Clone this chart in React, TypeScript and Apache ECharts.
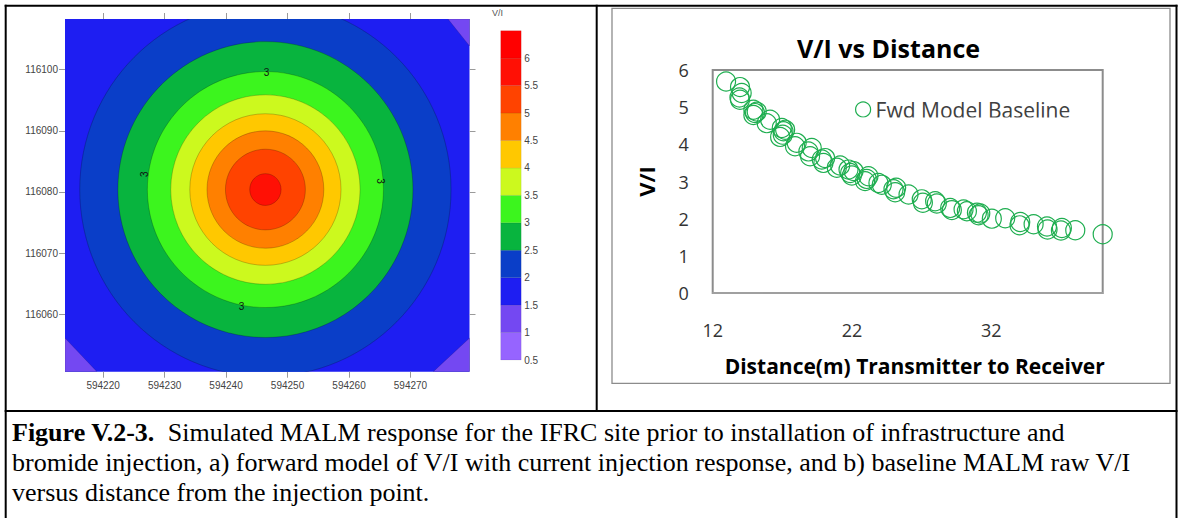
import React, { useEffect, useRef } from "react";
import * as echarts from "echarts";

// ---------- Panel a: simulated V/I contour map ----------
const mapXRange = [594213.8, 594279.6];
const mapYRange = [116050.6, 116108.3];
const eastingTicks = [594220, 594230, 594240, 594250, 594260, 594270];
const northingTicks = [116060, 116070, 116080, 116090, 116100];
const contourCenter = [594246.4, 116080.4];
const contourLevels = [2, 2.5, 3, 3.5, 4, 4.5, 5, 5.5];
const contourRadiusX = [30.2, 24.0, 19.2, 15.4, 12.3, 9.5, 6.5, 2.55];
const contourRadiusY = [30.6, 24.2, 19.3, 15.5, 12.4, 9.6, 6.6, 2.6];
// areas of the 1 - 1.5 band in the map corners
const cornerZones = [
  [[594276.1, 116108.3], [594279.6, 116103.9], [594279.6, 116108.3]],
  [[594279.6, 116056.1], [594273.7, 116050.6], [594279.6, 116050.6]],
  [[594213.8, 116056.1], [594219.0, 116050.6], [594213.8, 116050.6]],
];
const contourLabelPoints = [
  [594246.6, 116099.6, 0],
  [594226.8, 116082.9, 90],
  [594265.2, 116081.8, -90],
  [594242.5, 116061.3, 0],
];
const contourLabelText = "3";

// colour scale of panel a
const scaleBreaks = [0.5, 1, 1.5, 2, 2.5, 3, 3.5, 4, 4.5, 5, 5.5, 6, 6.5];
const scaleColors = [
  "#9664ff", "#7448f2", "#1e1ef2", "#0a3ec8", "#08b43e", "#3cf51e",
  "#ccf91e", "#ffc800", "#ff8000", "#ff4300", "#ff1005", "#ff0000",
];
const scaleTitle = "V/I";

// ---------- Panel b: V/I vs distance ----------
const seriesName = "Fwd Model Baseline";
const distances = [
  12.96, 13.96, 14.08, 13.92, 13.96, 14.92, 15.04, 14.92, 15.16, 15.88, 16.12,
  16.96, 17.08, 17.03, 17.2, 16.84, 17.91, 18.03, 18.87, 18.99, 19.11, 19.83,
  19.95, 20.07, 20.91, 21.15, 21.87, 21.99, 22.11, 21.75, 23.06, 22.94, 23.18,
  23.9, 24.14, 24.98, 25.1, 25.17, 26.06, 27.01, 27.09, 27.97, 28.09, 29.05,
  29.17, 30.01, 30.25, 30.97, 31.09, 31.21, 32.04, 33.0, 34.08, 34.03, 35.04,
  36.0, 36.04, 37.07, 37.0, 38.03, 40.0,
];
const vOverI = [
  5.69, 5.54, 5.38, 5.26, 5.2, 4.93, 4.84, 4.79, 4.88, 4.57, 4.66, 4.44, 4.35,
  4.26, 4.39, 4.2, 3.95, 4.04, 3.81, 3.68, 3.9, 3.59, 3.5, 3.63, 3.37, 3.43,
  3.23, 3.16, 3.28, 3.32, 3.07, 3.01, 3.14, 2.96, 2.91, 2.79, 2.71, 2.83, 2.65,
  2.52, 2.43, 2.47, 2.41, 2.29, 2.23, 2.25, 2.2, 2.16, 2.09, 2.14, 2.0, 2.01,
  1.91, 1.82, 1.85, 1.79, 1.71, 1.75, 1.68, 1.69, 1.58,
];
const distanceTicks = [12, 22, 32];
const chartTitle = "V/I vs Distance";
const xTitle = "Distance(m) Transmitter to Receiver";
const yTitle = "V/I";

// ---------- caption ----------
const captionLabel = "Figure V.2-3.";
const captionLines = [
  "  Simulated MALM response for the IFRC site prior to installation of infrastructure and",
  "bromide injection, a) forward model of V/I with current injection response, and b) baseline MALM raw V/I",
  "versus distance from the injection point.",
];

const SANS = "'Liberation Sans', Arial, sans-serif";
const CAL = "'Open Sans', 'Noto Sans', sans-serif";
const SERIF = "'Liberation Serif', 'Times New Roman', serif";
const GREEN = "#1fae50";

function bandColor(level: number) {
  return scaleColors[Math.round((level - scaleBreaks[0]) / 0.5)];
}

export default function App() {
  const ref = useRef<HTMLDivElement>(null);

  useEffect(() => {
    if (!ref.current) return;
    const chart = echarts.init(ref.current, undefined, { renderer: "svg" });
    const mapTick = { show: true, length: 6, lineStyle: { color: "#9a9a9a", width: 1 } };
    const mapLabel = { fontSize: 10, color: "#444", fontFamily: SANS, formatter: (v: number) => String(v) };

    const option: any = {
      animation: false,
      backgroundColor: "#fff",
      title: {
        text: chartTitle,
        left: 792,
        top: 30,
        textStyle: { fontFamily: CAL, fontWeight: "bold", fontSize: 25, color: "#000" },
      },
      legend: {
        data: [seriesName],
        left: 850,
        top: 94,
        icon: "circle",
        itemWidth: 15,
        itemHeight: 15,
        itemGap: 5,
        itemStyle: { color: "rgba(0,0,0,0)", borderColor: GREEN, borderWidth: 1.2 },
        textStyle: { fontFamily: CAL, fontSize: 21, color: "#404040" },
        selectedMode: false,
      },
      grid: [
        { left: 65, top: 19, width: 404.5, height: 352.7, show: true, backgroundColor: scaleColors[2], borderWidth: 0, outerBoundsMode: "none" },
        { left: 500.7, top: 30.7, width: 20.5, height: 329.3, outerBoundsMode: "none" },
        { left: 712.7, top: 70, width: 390, height: 223, show: true, backgroundColor: "transparent", borderColor: "#8c8c8c", borderWidth: 2, outerBoundsMode: "none" },
      ],
      xAxis: [
        {
          gridIndex: 0, type: "value", min: mapXRange[0], max: mapXRange[1], position: "bottom",
          axisLine: { show: false }, splitLine: { show: false },
          axisTick: { ...mapTick, customValues: eastingTicks },
          axisLabel: { ...mapLabel, customValues: eastingTicks, margin: 9 },
        },
        {
          gridIndex: 0, type: "value", min: mapXRange[0], max: mapXRange[1], position: "top",
          axisLine: { show: false }, splitLine: { show: false },
          axisTick: { ...mapTick, customValues: eastingTicks },
          axisLabel: { show: false },
        },
        { gridIndex: 1, type: "value", min: 0, max: 1, show: false },
        {
          gridIndex: 2, type: "value", min: 12, max: 40, position: "bottom", offset: 2.5,
          axisLine: { show: true, lineStyle: { color: "#a6a6a6", width: 1.5 } },
          axisTick: { show: false }, splitLine: { show: false },
          axisLabel: { customValues: distanceTicks, fontFamily: CAL, fontSize: 18, color: "#333", margin: 25 },
          name: xTitle, nameLocation: "middle", nameGap: 60,
          nameTextStyle: { fontFamily: CAL, fontWeight: "bold", fontSize: 21, color: "#000", padding: [0, 0, 0, 14] },
        },
      ],
      yAxis: [
        {
          gridIndex: 0, type: "value", min: mapYRange[0], max: mapYRange[1], position: "left",
          axisLine: { show: false }, splitLine: { show: false },
          axisTick: { ...mapTick, customValues: northingTicks },
          axisLabel: { ...mapLabel, customValues: northingTicks, margin: 7 },
        },
        {
          gridIndex: 0, type: "value", min: mapYRange[0], max: mapYRange[1], position: "right",
          axisLine: { show: false }, splitLine: { show: false },
          axisTick: { ...mapTick, customValues: northingTicks },
          axisLabel: { show: false },
        },
        {
          gridIndex: 1, type: "value", min: 0.5, max: 6.5, interval: 0.5, position: "right",
          axisLine: { show: false }, axisTick: { show: false }, splitLine: { show: false },
          axisLabel: { ...mapLabel, margin: 3, showMaxLabel: false, showMinLabel: true },
        },
        {
          gridIndex: 2, type: "value", min: 0, max: 6, interval: 1, position: "left",
          axisLine: { show: false }, axisTick: { show: false }, splitLine: { show: false },
          axisLabel: { fontFamily: CAL, fontSize: 18, color: "#333", margin: 24 },
          name: yTitle, nameLocation: "middle", nameRotate: 90, nameGap: 56,
          nameTextStyle: { fontFamily: CAL, fontWeight: "bold", fontSize: 22, color: "#000" },
        },
      ],
      series: [
        {
          type: "custom", xAxisIndex: 0, yAxisIndex: 0, clip: true, silent: true,
          encode: { x: 0, y: 1 },
          data: cornerZones.map((poly, i) => [poly[0][0], poly[0][1], i]),
          renderItem: (_p: any, api: any) => {
            const poly = cornerZones[api.value(2)];
            return {
              type: "polygon",
              shape: { points: poly.map((pt) => api.coord(pt)) },
              style: { fill: bandColor(1), stroke: "rgba(0,0,0,0.25)", lineWidth: 0.6 },
            };
          },
        },
        {
          type: "custom", xAxisIndex: 0, yAxisIndex: 0, clip: true, silent: true,
          encode: { x: 0, y: 1 },
          data: contourLevels.map((lv, i) => [contourCenter[0], contourCenter[1], i]),
          renderItem: (_p: any, api: any) => {
            const i = api.value(2);
            const cx = api.value(0);
            const cy = api.value(1);
            const c = api.coord([cx, cy]);
            const s = api.size([contourRadiusX[i], contourRadiusY[i]], [cx, cy]);
            return {
              type: "ellipse",
              shape: { cx: c[0], cy: c[1], rx: s[0], ry: s[1] },
              style: { fill: bandColor(contourLevels[i]), stroke: "rgba(0,0,0,0.3)", lineWidth: 0.7 },
            };
          },
        },
        {
          type: "custom", xAxisIndex: 0, yAxisIndex: 0, clip: true, silent: true,
          encode: { x: 0, y: 1 },
          data: contourLabelPoints,
          renderItem: (_p: any, api: any) => {
            const c = api.coord([api.value(0), api.value(1)]);
            return {
              type: "text",
              x: c[0], y: c[1],
              rotation: (api.value(2) * Math.PI) / 180,
              style: { text: contourLabelText, fontSize: 10, fontFamily: SANS, fill: "#111", align: "center", verticalAlign: "middle" },
            };
          },
        },
        {
          type: "custom", xAxisIndex: 2, yAxisIndex: 2, silent: true,
          encode: { x: 0, y: 1 },
          data: scaleColors.map((_c, i) => [0, scaleBreaks[i], scaleBreaks[i + 1], i]),
          renderItem: (_p: any, api: any) => {
            const p1 = api.coord([0, api.value(2)]);
            const p2 = api.coord([1, api.value(1)]);
            return {
              type: "rect",
              shape: { x: p1[0], y: p1[1], width: p2[0] - p1[0], height: p2[1] - p1[1] },
              style: { fill: scaleColors[api.value(3)], stroke: "rgba(0,0,0,0.12)", lineWidth: 0.6 },
            };
          },
        },
        {
          name: seriesName, type: "scatter", xAxisIndex: 3, yAxisIndex: 3, clip: false,
          symbol: "circle", symbolSize: 19,
          itemStyle: { color: "rgba(0,0,0,0)", borderColor: GREEN, borderWidth: 1.2, opacity: 1 },
          emphasis: { disabled: true },
          data: distances.map((d, i) => [d, vOverI[i]]),
        },
      ],
      graphic: [
        { type: "text", z: 50, x: 497.5, y: 13, style: { text: scaleTitle, fontSize: 9, fontFamily: SANS, fill: "#555", align: "center", verticalAlign: "middle" } },
        // legend text cut-off of the original Excel chart
        { type: "rect", z: 50, shape: { x: 846, y: 117.5, width: 250, height: 5 }, style: { fill: "#fff" } },
        // Excel chart area border
        { type: "rect", z: 50, shape: { x: 612, y: 8.3, width: 558, height: 375 }, style: { fill: "none", stroke: "#8c8c8c", lineWidth: 1.3 } },
        // table borders
        { type: "line", z: 60, shape: { x1: 4.7, y1: 5.7, x2: 1177.5, y2: 5.7 }, style: { stroke: "#000", lineWidth: 2 } },
        { type: "line", z: 60, shape: { x1: 5.7, y1: 4.7, x2: 5.7, y2: 518 }, style: { stroke: "#000", lineWidth: 2 } },
        { type: "line", z: 60, shape: { x1: 1176.5, y1: 4.7, x2: 1176.5, y2: 518 }, style: { stroke: "#000", lineWidth: 2 } },
        { type: "line", z: 60, shape: { x1: 596.7, y1: 4.7, x2: 596.7, y2: 411 }, style: { stroke: "#000", lineWidth: 2 } },
        { type: "line", z: 60, shape: { x1: 4.7, y1: 411, x2: 1177.5, y2: 411 }, style: { stroke: "#000", lineWidth: 2 } },
        // caption
        {
          type: "text", z: 60, x: 12, y: 432,
          style: {
            text: "{b|" + captionLabel + "}" + captionLines[0],
            rich: { b: { fontWeight: "bold", fontFamily: SERIF, fontSize: 26, fill: "#000" } },
            fontSize: 26, fontFamily: SERIF, fill: "#000", verticalAlign: "middle",
          },
        },
        { type: "text", z: 60, x: 12, y: 462, style: { text: captionLines[1], fontSize: 26, fontFamily: SERIF, fill: "#000", verticalAlign: "middle" } },
        { type: "text", z: 60, x: 12, y: 492, style: { text: captionLines[2], fontSize: 26, fontFamily: SERIF, fill: "#000", verticalAlign: "middle" } },
      ],
    };
    chart.setOption(option);
    return () => chart.dispose();
  }, []);

  return (
    <div
      ref={ref}
      style={{ position: "fixed", left: 0, top: 0, width: "1182px", height: "518px", background: "#fff" }}
    />
  );
}
